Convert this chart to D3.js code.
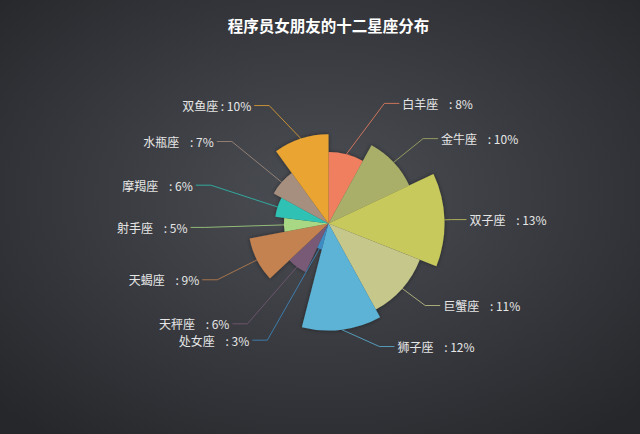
<!DOCTYPE html>
<html>
<head>
<meta charset="utf-8">
<script src="https://cdn.jsdelivr.net/npm/d3@7"></script>
<style>
  html, body { margin: 0; padding: 0; background: #2b2c30; }
  svg { display: block; }
  text { font-family: "Noto Sans CJK SC", "Noto Sans", sans-serif; white-space: pre; }
</style>
</head>
<body>
<svg id="chart" width="640" height="434"></svg>
<script>
// zodiac signs, clockwise from 12 o'clock
var signs = ['白羊座', '金牛座', '双子座', '巨蟹座', '狮子座', '处女座',
             '天秤座', '天蝎座', '射手座', '摩羯座', '水瓶座', '双鱼座'];
var shares = [8, 10, 13, 11, 12, 3, 6, 9, 5, 6, 7, 10];
var gaps = ['    ', '    ', '    ', '    ', '    ', '    ', '    ', '    ', '    ', '    ', '    ', ' '];
var colors = ['#ef7f5f', '#a9af68', '#c8c95b', '#c6c78a', '#5cb3d6', '#3e8cc4',
              '#785a76', '#c3824f', '#a8d883', '#2fc1b4', '#a68f7e', '#e9a431'];
var title = '程序员女朋友的十二星座分布';

var width = 640, height = 434;
var cx = 328.5, cy = 223.5;
var maxR = 116;
var lineLen = 8, textR = 141;

var svg = d3.select('#chart');
var defs = svg.append('defs');

var bg = defs.append('radialGradient').attr('id', 'bg')
    .attr('cx', '50%').attr('cy', '45%').attr('r', '70%');
bg.append('stop').attr('offset', '0%').attr('stop-color', '#4b4e54');
bg.append('stop').attr('offset', '100%').attr('stop-color', '#26272b');

var shadow = defs.append('filter').attr('id', 'shadow')
    .attr('x', '-20%').attr('y', '-20%').attr('width', '140%').attr('height', '140%');
shadow.append('feDropShadow').attr('dx', 0).attr('dy', 0)
    .attr('stdDeviation', 2).attr('flood-color', '#000').attr('flood-opacity', 0.45);

svg.append('rect').attr('width', width).attr('height', height).attr('fill', 'url(#bg)');

svg.append('text')
    .attr('x', cx).attr('y', 25)
    .attr('text-anchor', 'middle').attr('dominant-baseline', 'central')
    .attr('fill', '#ffffff').attr('font-size', 15.5).attr('font-weight', 'bold')
    .text(title);

var data = signs.map(function (s, i) {
    return { name: s, value: shares[i], gap: gaps[i], color: colors[i] };
});

var pie = d3.pie().sort(null).value(function (d) { return d.value; });
var rScale = d3.scaleLinear().domain([0, d3.max(shares)]).range([0, maxR]);
var arc = d3.arc().innerRadius(0).outerRadius(function (d) { return rScale(d.data.value); });

var g = svg.append('g').attr('transform', 'translate(' + cx + ',' + cy + ')');

g.append('g').attr('filter', 'url(#shadow)')
  .selectAll('path')
  .data(pie(data))
  .join('path')
    .attr('d', arc)
    .attr('fill', function (d) { return d.data.color; });

// label layout: y from mid-angle ray, x pushed onto an outer circle
var labels = pie(data).map(function (d) {
    var a = (d.startAngle + d.endAngle) / 2;
    var dx = Math.sin(a), dy = -Math.cos(a);
    var r = rScale(d.data.value);
    var side = dx < 0 ? -1 : 1;
    var y = (maxR + lineLen) * dy;
    var tx = side * Math.sqrt(Math.max(textR * textR - y * y, 0));
    return {
        d: d, side: side, y: y, tx: tx,
        pts: [[r * dx, r * dy], [tx - side * 18, y], [tx - side * 3, y]]
    };
});

g.append('g').selectAll('polyline')
  .data(labels)
  .join('polyline')
    .attr('points', function (l) { return l.pts.map(function (p) { return p.join(','); }).join(' '); })
    .attr('fill', 'none')
    .attr('stroke', function (l) { return l.d.data.color; })
    .attr('stroke-opacity', 0.8)
    .attr('stroke-width', 1);

g.append('g').selectAll('text')
  .data(labels)
  .join('text')
    .attr('x', function (l) { return l.tx; })
    .attr('y', function (l) { return l.y; })
    .attr('text-anchor', function (l) { return l.side < 0 ? 'end' : 'start'; })
    .attr('dominant-baseline', 'central')
    .attr('fill', '#e6e6e6')
    .attr('font-size', 12)
    .text(function (l) { return l.d.data.name + l.d.data.gap + ': ' + l.d.data.value + '%'; });
</script>
</body>
</html>
